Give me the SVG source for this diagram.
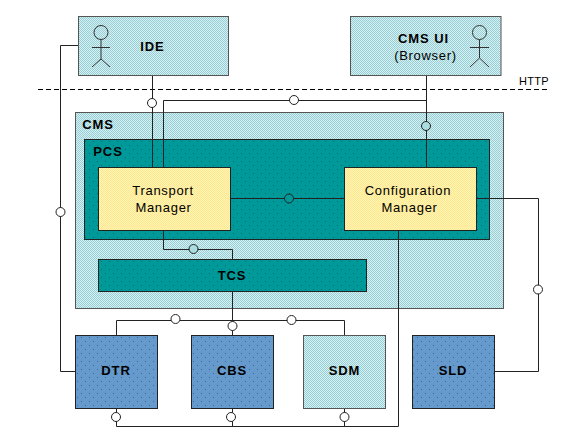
<svg xmlns="http://www.w3.org/2000/svg" width="579" height="434" viewBox="0 0 579 434">
<defs>
<pattern id="lb" width="2" height="2" patternUnits="userSpaceOnUse"><rect width="2" height="2" fill="#d6f0f1"/><rect width="1" height="1" fill="#98cfd6"/><rect x="1" y="1" width="1" height="1" fill="#98cfd6"/></pattern>
<pattern id="yl" width="2" height="2" patternUnits="userSpaceOnUse"><rect width="2" height="2" fill="#fff8a8"/><rect width="1" height="1" fill="#fde49a"/><rect x="1" y="1" width="1" height="1" fill="#fde49a"/></pattern>
<pattern id="tl" width="8" height="8" patternUnits="userSpaceOnUse"><rect width="8" height="8" fill="#009999"/><rect x="1" y="1" width="1" height="1" fill="#006e6e"/><rect x="5" y="5" width="1" height="1" fill="#006e6e"/></pattern>
<pattern id="bl" width="8" height="8" patternUnits="userSpaceOnUse"><rect width="8" height="8" fill="#6699cc"/><rect x="1" y="1" width="1" height="1" fill="#3f6a9c"/><rect x="5" y="5" width="1" height="1" fill="#3f6a9c"/></pattern>
</defs>
<style>
.n{stroke:#222;stroke-width:1}
.lb{fill:url(#lb);stroke:#555}
.tl{fill:url(#tl)}.bl{fill:url(#bl)}.yl{fill:url(#yl)}
.c{fill:none;stroke:#222;stroke-width:1}
.o{fill:#fff;stroke:#222;stroke-width:1}
.a{fill:none;stroke:#333;stroke-width:1}
text{font-family:"Liberation Sans",Arial,sans-serif;font-size:13px;fill:#000;text-anchor:middle}
.r{letter-spacing:.7px}
.b{font-weight:bold;letter-spacing:.9px}
</style>
<rect width="579" height="434" fill="#fff"/>
<g id="http"><path d="M38 89.500H547" fill="none" stroke="#000" stroke-dasharray="5 3"/><text x="534" y="85" style="font-size:11px;letter-spacing:.3px">HTTP</text></g>
<g id="CMS"><rect class="n lb" x="75.500" y="112.500" width="428" height="196"/><text class="b" x="98" y="129">CMS</text></g>
<g id="PCS"><rect class="n tl" x="84.500" y="139.500" width="405" height="100"/><text class="b" x="108" y="156">PCS</text></g>
<g id="connectors">
<path class="c" d="M78 45.500H60.500V371.500H75"/>
<path class="c" d="M152.500 75.500V167"/>
<path class="c" d="M163.500 167V100.500H426.500"/>
<path class="c" d="M426.500 75.500V167"/>
<path class="c" d="M230 198.500H344"/>
<path class="c" d="M163.500 230V249.500H232.500V259.500"/>
<path class="c" d="M232.500 291V335"/>
<path class="c" d="M116.500 335V320.500H232.500"/>
<path class="c" d="M232.500 320.500H344.500V335"/>
<path class="c" d="M476 198.500H538.500V371.500H494.500"/>
<path class="c" d="M398.500 230V426.500"/>
<path class="c" d="M116.500 408V426.500H398.500"/>
<path class="c" d="M232.500 408V426.500"/>
<path class="c" d="M344.500 408V426.500"/>
</g>
<g id="IDE"><rect class="n lb" x="78.500" y="16.500" width="150" height="59"/>
<circle class="a" cx="101" cy="32.500" r="7"/><path class="a" d="M101 39.500V59M92 47.500H110M92 67L101 59L110 67"/><text class="b" x="152.500" y="51">IDE</text></g>
<g id="CMSUI"><rect class="n lb" x="350.500" y="16.500" width="150.500" height="59"/>
<circle class="a" cx="479.500" cy="32.500" r="7"/><path class="a" d="M479.500 39.500V58M470 47.500H489M470 67L479.500 58L489 67"/><text class="b" x="423.500" y="43">CMS UI</text><text class="r" x="425.500" y="60">(Browser)</text></g>
<g id="TM"><rect class="n yl" x="98.500" y="167.500" width="132" height="63"/><text class="r" x="163" y="195">Transport</text><text class="r" x="163.500" y="212">Manager</text></g>
<g id="CM"><rect class="n yl" x="344.500" y="167.500" width="132" height="63"/><text class="r" x="408" y="195">Configuration</text><text class="r" x="409.500" y="212">Manager</text></g>
<g id="TCS"><rect class="n tl" x="98.500" y="259.500" width="268" height="32"/><text class="b" x="232" y="280">TCS</text></g>
<g id="DTR"><rect class="n bl" x="75.500" y="335.500" width="82" height="73"/><text class="b" x="116" y="375">DTR</text></g>
<g id="CBS"><rect class="n bl" x="191.500" y="335.500" width="82" height="73"/><text class="b" x="232" y="375">CBS</text></g>
<g id="SDM"><rect class="n lb" x="303.500" y="335.500" width="82" height="73"/><text class="b" x="344.500" y="375">SDM</text></g>
<g id="SLD"><rect class="n bl" x="412.500" y="335.500" width="82" height="73"/><text class="b" x="453" y="375">SLD</text></g>
<g id="ports">
<circle class="o" cx="60.500" cy="212" r="4.500"/><circle class="o" cx="152" cy="103" r="4.500"/><circle class="o" cx="294" cy="100" r="4.500"/><circle class="o" cx="426" cy="126" r="4.500" style="fill:#a9dde0"/>
<circle class="o" cx="289" cy="198.500" r="4.500" style="fill:#009999"/><circle class="o" cx="193.500" cy="249" r="4.500" style="fill:#a9dde0"/>
<circle class="o" cx="175.500" cy="319" r="4.500"/><circle class="o" cx="232.500" cy="326" r="4.500"/><circle class="o" cx="291.500" cy="320" r="4.500"/>
<circle class="o" cx="538" cy="289.500" r="4.500"/><circle class="o" cx="116" cy="417" r="4.500"/><circle class="o" cx="231" cy="417" r="4.500"/><circle class="o" cx="344.500" cy="417" r="4.500"/>
</g>
</svg>
